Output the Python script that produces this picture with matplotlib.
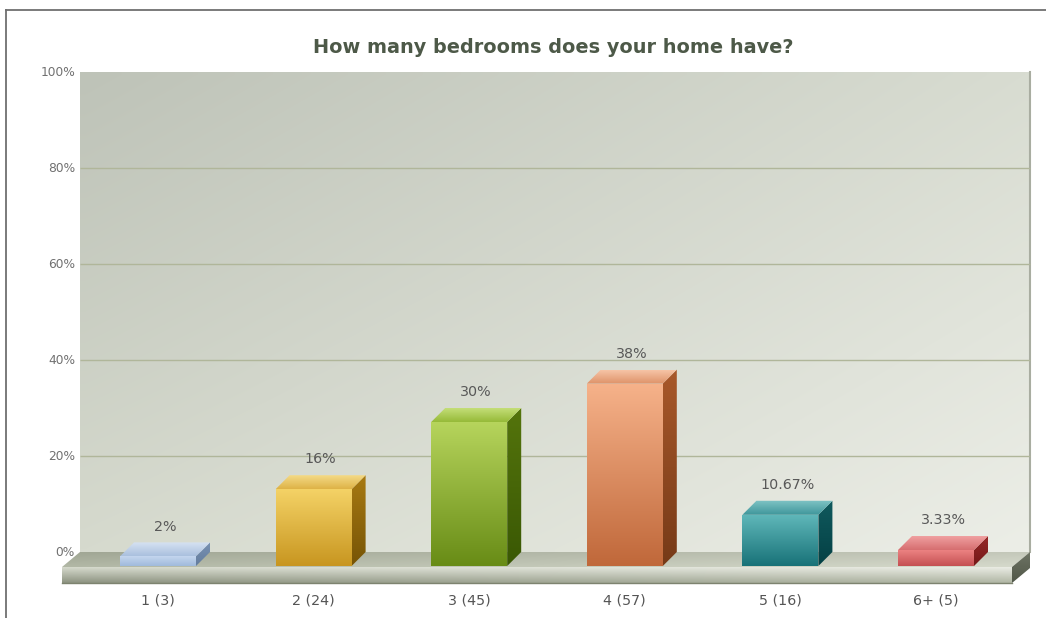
import numpy as np
import matplotlib
matplotlib.use("Agg")
import matplotlib.pyplot as plt
from matplotlib.patches import Polygon
from matplotlib.lines import Line2D

# ---- data -------------------------------------------------------------
title = "How many bedrooms does your home have?"
categories = ["1", "2", "3", "4", "5", "6+"]
counts = [3, 24, 45, 57, 16, 5]
percents = [2, 16, 30, 38, 10.67, 3.33]
y_ticks = [0, 20, 40, 60, 80, 100]
y_tick_labels = ["0%", "20%", "40%", "60%", "80%", "100%"]

# bar shading: front top, front bottom, side top, side bottom, lid front, lid back
palettes = [
    [(196, 214, 238), (160, 186, 220), (120, 145, 178), (100, 125, 158), (170, 192, 222), (214, 226, 242)],
    [(244, 210, 102), (200, 150, 32), (168, 122, 18), (118, 84, 6), (222, 178, 70), (246, 222, 140)],
    [(182, 212, 92), (104, 140, 22), (84, 116, 12), (58, 88, 4), (150, 186, 56), (196, 222, 120)],
    [(246, 178, 138), (192, 104, 58), (168, 88, 42), (118, 58, 24), (222, 146, 104), (246, 196, 166)],
    [(96, 184, 186), (24, 114, 120), (16, 90, 94), (4, 64, 68), (62, 150, 154), (128, 196, 198)],
    [(236, 130, 130), (196, 80, 82), (150, 40, 40), (116, 24, 24), (214, 110, 112), (240, 160, 160)],
]

# ---- figure & coordinate frame ----------------------------------------
W, H = 1046, 618
PX_X, X0 = 155.6, 158.0      # pixels per category, pixel of first bar centre
PX_Y, Y0 = 4.8, 552.0        # pixels per percent, pixel row of 0 % on back wall


def px2x(p):
    return (p - X0) / PX_X


def px2y(p):
    return (Y0 - p) / PX_Y


fig = plt.figure(figsize=(W / 100, H / 100), dpi=100)
fig.patch.set_facecolor("white")
ax = fig.add_axes([0, 0, 1, 1])
ax.set_xlim(px2x(0), px2x(W))
ax.set_ylim(px2y(H), px2y(0))
ax.axis("off")


def rgb(c):
    return np.array(c, dtype=float) / 255.0


def fill_gradient(verts, c_tl, c_tr, c_bl, c_br, zorder):
    verts = np.asarray(verts, dtype=float)
    x0, y0 = verts.min(axis=0)
    x1, y1 = verts.max(axis=0)
    n = 96
    u = np.linspace(0, 1, n)[None, :, None]
    v = np.linspace(0, 1, n)[:, None, None]
    tl, tr, bl, br = map(rgb, (c_tl, c_tr, c_bl, c_br))
    img = (1 - v) * ((1 - u) * tl + u * tr) + v * ((1 - u) * bl + u * br)
    poly = Polygon(verts, closed=True, fc="none", ec="none", zorder=zorder)
    ax.add_patch(poly)
    im = ax.imshow(np.clip(img, 0, 1), extent=(x0, x1, y0, y1), origin="upper",
                   aspect="auto", interpolation="bilinear", zorder=zorder)
    im.set_clip_path(poly)
    return poly


# ---- back wall --------------------------------------------------------
wall_x0, wall_x1 = px2x(80), px2x(1030)
fill_gradient([(wall_x0, 0), (wall_x1, 0), (wall_x1, 100), (wall_x0, 100)],
              (190, 195, 184), (216, 220, 209), (214, 218, 206), (236, 238, 231), 0)
ax.plot([wall_x1, wall_x1], [0, 100], color="#a9ada1", lw=1.5, zorder=1)
ax.hlines(y_ticks[1:-1], wall_x0, wall_x1, color="#b0b69a", lw=1.0, zorder=1)

for t, lab in zip(y_ticks, y_tick_labels):
    ax.text(px2x(75), t, lab, ha="right", va="center", fontsize=8.8,
            color="#707070", zorder=5)

# ---- floor slab -------------------------------------------------------
f_back0, f_back1 = wall_x0, wall_x1
f_front0, f_front1 = px2x(62), px2x(1012)
f_top_front = px2y(567)
f_bottom = px2y(583)
fill_gradient([(f_back0, 0), (f_back1, 0), (f_front1, f_top_front), (f_front0, f_top_front)],
              (160, 166, 148), (196, 200, 186), (178, 184, 166), (214, 218, 204), 2)
fill_gradient([(f_front0, f_top_front), (f_front1, f_top_front), (f_front1, f_bottom), (f_front0, f_bottom)],
              (214, 218, 205), (234, 236, 228), (140, 146, 128), (176, 182, 164), 2)
fill_gradient([(f_front1, f_top_front), (f_back1, 0), (f_back1, px2y(568)), (f_front1, f_bottom)],
              (110, 116, 100), (110, 116, 100), (80, 86, 72), (80, 86, 72), 2)
ax.plot([f_front0, f_front1], [f_bottom, f_bottom], color="#7d836f", lw=1.0, zorder=3)

# ---- 3D bars ----------------------------------------------------------
bar_w = 76 / PX_X
dx = 14 / PX_X
dy = 14 / PX_Y
for i, (v, pal) in enumerate(zip(percents, palettes)):
    ft, fb, st, sb, lf, lb = pal
    xl, xr = i - bar_w / 2, i + bar_w / 2
    base = -dy
    top = v - dy
    # front face
    fill_gradient([(xl, base), (xr, base), (xr, top), (xl, top)],
                  ft, ft, fb, fb, 4)
    # right side
    fill_gradient([(xr, base), (xr + dx, 0), (xr + dx, v), (xr, top)],
                  st, st, sb, sb, 4)
    # lid
    fill_gradient([(xl, top), (xr, top), (xr + dx, v), (xl + dx, v)],
                  lb, lb, lf, lf, 4)
    ax.text(i + dx / 2, v + 3.3, f"{v:g}%", ha="center", va="center",
            fontsize=10.3, color="#585858", zorder=6)

for i, (c, n) in enumerate(zip(categories, counts)):
    ax.text(i, px2y(600), f"{c} ({n})", ha="center", va="center",
            fontsize=10.3, color="#555555", zorder=6)

# ---- title & frame ----------------------------------------------------
ax.text(px2x(553), px2y(53), title, ha="center", va="baseline",
        fontsize=13.9, fontweight="bold", color="#4d5948", zorder=6)

fig.add_artist(Line2D([6 / W, 1.0], [1 - 9.5 / H, 1 - 9.5 / H],
                      transform=fig.transFigure, color="#6f6f6f", lw=1.3))
fig.add_artist(Line2D([6 / W, 6 / W], [0.0, 1 - 9.5 / H],
                      transform=fig.transFigure, color="#6f6f6f", lw=1.3))

fig.savefig("out.png", dpi=100, facecolor="white")
